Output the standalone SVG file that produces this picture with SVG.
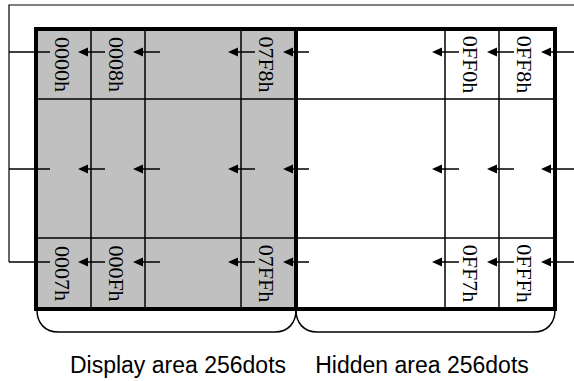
<svg xmlns="http://www.w3.org/2000/svg" xmlns:xlink="http://www.w3.org/1999/xlink" width="574" height="381" viewBox="0 0 574 381">
<style>
.thin{stroke:#000;stroke-width:1.5;fill:none}
.frame{stroke:#000;stroke-width:1.2;fill:none}
.thick{stroke:#000;stroke-width:4;fill:none}
.lbl{font-family:"Liberation Serif","Times New Roman",serif;font-size:22px;fill:#000;text-anchor:middle}
.cap{font-family:"Liberation Sans",Arial,sans-serif;font-size:23px;fill:#000;text-anchor:middle}
</style>
<defs>
<path id="ah" d="M0,0 L10,-4.5 L10,4.5 Z" fill="#000"/>
<g id="arow">
<path d="M9,0 H50 M87,0 H105 M142,0 H160 M237,0 H255 M292,0 H309 M441,0 H459 M496,0 H514 M550,0 H574" stroke="#000" stroke-width="1.5" fill="none"/>
<use xlink:href="#ah" href="#ah" x="78"/>
<use xlink:href="#ah" href="#ah" x="133"/>
<use xlink:href="#ah" href="#ah" x="228"/>
<use xlink:href="#ah" href="#ah" x="283"/>
<use xlink:href="#ah" href="#ah" x="432"/>
<use xlink:href="#ah" href="#ah" x="487"/>
<use xlink:href="#ah" href="#ah" x="541"/>
</g>
</defs>
<rect width="574" height="381" fill="#fff"/>
<g id="display-area">
<rect x="36" y="29" width="260" height="280" fill="#c0c0c0"/>
</g>
<g id="grid">
<line class="thin" x1="91" y1="29" x2="91" y2="309"/>
<line class="thin" x1="145" y1="29" x2="145" y2="309"/>
<line class="thin" x1="241" y1="29" x2="241" y2="309"/>
<line class="thin" x1="445" y1="29" x2="445" y2="309"/>
<line class="thin" x1="499" y1="29" x2="499" y2="309"/>
<line class="thin" x1="36" y1="99" x2="555" y2="99"/>
<line class="thin" x1="36" y1="238" x2="555" y2="238"/>
<rect class="thick" x="36" y="29" width="519" height="280"/>
<line class="thick" x1="296" y1="29" x2="296" y2="309"/>
</g>
<g id="connectors">
<polyline class="frame" points="574,5 9,5 9,262"/>
<use id="row1" xlink:href="#arow" href="#arow" y="52"/>
<use id="row2" xlink:href="#arow" href="#arow" y="169"/>
<use id="row3" xlink:href="#arow" href="#arow" y="262"/>
</g>
<g id="labels-top">
<text class="lbl" transform="translate(55,64.5) rotate(90)">0000h</text>
<text class="lbl" transform="translate(109,64.5) rotate(90)">0008h</text>
<text class="lbl" transform="translate(259,64.5) rotate(90)">07F8h</text>
<text class="lbl" transform="translate(463,64.5) rotate(90)">0FF0h</text>
<text class="lbl" transform="translate(517,64.5) rotate(90)">0FF8h</text>
</g>
<g id="labels-bottom">
<text class="lbl" transform="translate(55,273.5) rotate(90)">0007h</text>
<text class="lbl" transform="translate(109,273.5) rotate(90)">000Fh</text>
<text class="lbl" transform="translate(259,273.5) rotate(90)">07FFh</text>
<text class="lbl" transform="translate(463,273.5) rotate(90)">0FF7h</text>
<text class="lbl" transform="translate(517,273.5) rotate(90)">0FFFh</text>
</g>
<g id="brace-display">
<path class="thin" d="M37,310 C37,323 45,332 58,332 L275,332 C288,332 296,323 296,310"/>
<text class="cap" x="178" y="373">Display area 256dots</text>
</g>
<g id="brace-hidden">
<path class="thin" d="M296,310 C296,323 304,332 317,332 L534,332 C547,332 555,323 555,310"/>
<text class="cap" x="422" y="373">Hidden area 256dots</text>
</g>
</svg>
